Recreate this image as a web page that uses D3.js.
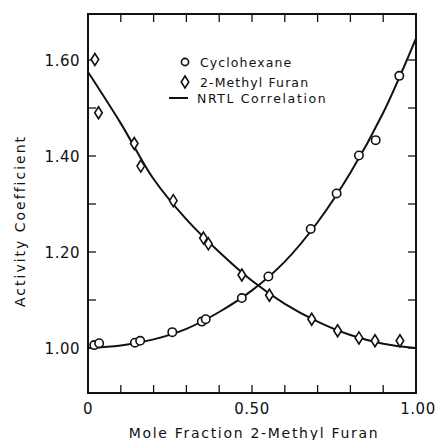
<!DOCTYPE html>
<html><head><meta charset="utf-8">
<script src="https://cdn.jsdelivr.net/npm/d3@7"></script>
<style>body{margin:0;background:#fff}text{font-family:"DejaVu Sans",sans-serif;fill:#111}</style>
</head><body><svg id="c" width="436" height="440"></svg>
<script>
// Data
const cycloX = [0.019,0.034,0.143,0.159,0.257,0.347,0.359,0.469,0.550,0.679,0.758,0.826,0.877,0.949];
const cycloY = [1.006,1.010,1.011,1.015,1.033,1.055,1.060,1.104,1.149,1.248,1.322,1.401,1.433,1.567];
const furanX = [0.021,0.032,0.141,0.161,0.260,0.352,0.367,0.469,0.553,0.682,0.761,0.826,0.875,0.951];
const furanY = [1.601,1.490,1.426,1.379,1.307,1.229,1.217,1.152,1.110,1.060,1.036,1.021,1.015,1.015];
const curveX = [0,0.1,0.2,0.3,0.4,0.5,0.6,0.7,0.8,0.9,1.0];
const nrtlCyclo = [1.000,1.005,1.018,1.040,1.075,1.120,1.180,1.262,1.365,1.490,1.645];
const nrtlFuran = [1.575,1.468,1.352,1.268,1.200,1.140,1.092,1.055,1.027,1.009,1.000];
const xTickLabels = ["0","0.50","1.00"];
const yTickLabels = ["1.00","1.20","1.40","1.60"];
const legendLabels = ["Cyclohexane","2-Methyl Furan","NRTL Correlation"];

const svg = d3.select("#c");
const L=88,R=416,T=14,B=393;
const x = d3.scaleLinear().domain([0,1]).range([L,R]);
const y = d3.scaleLinear().domain([1.0,1.6]).range([348,60]);
const yMax = y.invert(T), yMin = y.invert(B);

// frame
svg.append("rect").attr("x",L).attr("y",T).attr("width",R-L).attr("height",B-T)
  .attr("fill","none").attr("stroke","#111").attr("stroke-width",2);

// ticks (inward) all four sides
const xt = d3.range(0,1.0001,0.1);
const yt = d3.range(0,7).map(i=>1.0+0.1*i).filter(v=>v>=yMin&&v<=yMax);
const g = svg.append("g").attr("stroke","#111").attr("stroke-width",1.3);
xt.slice(1,-1).forEach(v=>{
  g.append("line").attr("x1",x(v)).attr("x2",x(v)).attr("y1",B).attr("y2",B-8);
  g.append("line").attr("x1",x(v)).attr("x2",x(v)).attr("y1",T).attr("y2",T+8);
});
yt.forEach(v=>{
  g.append("line").attr("x1",L).attr("x2",L+8).attr("y1",y(v)).attr("y2",y(v));
  g.append("line").attr("x1",R).attr("x2",R-8).attr("y1",y(v)).attr("y2",y(v));
});

// tick labels
[0,0.5,1.0].forEach((v,i)=>{
  svg.append("text").attr("x",x(v)+(i==2?2:0)).attr("y",414).attr("text-anchor","middle")
   .attr("font-size",15).attr("letter-spacing",0.5).text(xTickLabels[i]);
});
[1.0,1.2,1.4,1.6].forEach((v,i)=>{
  svg.append("text").attr("x",80).attr("y",y(v)+5.5).attr("text-anchor","end")
   .attr("font-size",15).attr("letter-spacing",0.5).text(yTickLabels[i]);
});

// axis titles
svg.append("text").attr("x",254).attr("y",438).attr("text-anchor","middle")
  .attr("font-size",14).attr("letter-spacing",1.7).text("Mole Fraction 2-Methyl Furan");
svg.append("text").attr("transform","translate(25,221) rotate(-90)").attr("text-anchor","middle")
  .attr("font-size",14).attr("letter-spacing",2).text("Activity Coefficient");

// curves
const line = d3.line().x(d=>x(d[0])).y(d=>y(d[1])).curve(d3.curveCatmullRom);
svg.append("clipPath").attr("id","pc").append("rect").attr("x",L).attr("y",T).attr("width",R-L).attr("height",B-T);
[nrtlCyclo,nrtlFuran].forEach(arr=>{
  svg.append("path").attr("clip-path","url(#pc)").datum(curveX.map((v,i)=>[v,arr[i]]))
    .attr("d",line).attr("fill","none").attr("stroke","#111").attr("stroke-width",2);
});

// markers
const diamond = (cx,cy)=>`M${cx},${cy-6}L${cx+3.8},${cy}L${cx},${cy+6}L${cx-3.8},${cy}Z`;
svg.append("g").selectAll("circle").data(cycloX.map((v,i)=>[v,cycloY[i]])).join("circle")
  .attr("cx",d=>x(d[0])).attr("cy",d=>y(d[1])).attr("r",4.2)
  .attr("fill","#fff").attr("stroke","#111").attr("stroke-width",1.6);
svg.append("g").selectAll("path").data(furanX.map((v,i)=>[v,furanY[i]])).join("path")
  .attr("d",d=>diamond(x(d[0]),y(d[1])))
  .attr("fill","#fff").attr("stroke","#111").attr("stroke-width",1.6);

// legend
svg.append("circle").attr("cx",185).attr("cy",62).attr("r",3.6).attr("fill","#fff").attr("stroke","#111").attr("stroke-width",1.6);
svg.append("path").attr("d",diamond(185,82)).attr("fill","#fff").attr("stroke","#111").attr("stroke-width",1.6);
svg.append("line").attr("x1",169).attr("x2",188).attr("y1",98).attr("y2",98).attr("stroke","#111").attr("stroke-width",2);
[66.5,86.5,103].forEach((yy,i)=>{
  svg.append("text").attr("x",i==2?197:200).attr("y",yy).attr("font-size",12.5)
    .attr("letter-spacing",i==2?1.6:1.1).text(legendLabels[i]);
});
</script></body></html>
